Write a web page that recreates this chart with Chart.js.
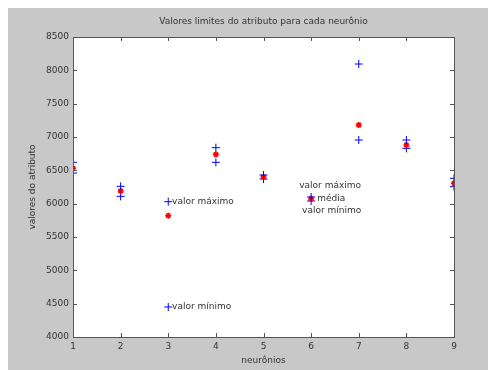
<!DOCTYPE html>
<html>
<head>
<meta charset="utf-8">
<script src="https://cdn.jsdelivr.net/npm/chart.js@4/dist/chart.umd.min.js"></script>
<style>
  body { margin: 0; background: #ffffff; }
  #fundo { position: absolute; left: 8px; top: 8px; width: 480px; height: 362px; background: #c8c8c8; }
</style>
</head>
<body>
<div id="fundo"><canvas id="grafico" width="480" height="362"></canvas></div>
<script>
const neuronios = [1, 2, 3, 4, 5, 6, 7, 8, 9];
const valorMaximo = [6620, 6260, 6030, 6840, 6430, 6100, 8095, 6955, 6380];
const valorMedio = [6530, 6190, 5820, 6740, 6400, 6075, 7180, 6880, 6305];
const valorMinimo = [6460, 6110, 4450, 6620, 6370, 6040, 6955, 6830, 6255];

const titulo = "Valores limites do atributo para cada neurônio";

// textos escritos dentro do grafico (posicao em unidades dos eixos)
const anotacoes = [
  { texto: "valor máximo", x: 3.08, y: 6030 },
  { texto: "valor mínimo", x: 3.08, y: 4450 },
  { texto: "valor máximo", x: 5.75, y: 6265 },
  { texto: "média", x: 6.13, y: 6075 },
  { texto: "valor mínimo", x: 5.81, y: 5890 }
];

function pontos(valores) {
  return neuronios.map((n, i) => ({ x: n, y: valores[i] }));
}

const fonte = { family: "DejaVu Sans", size: 9 };

const caixaPlugin = {
  id: "caixa",
  beforeDraw(chart) {
    const ctx = chart.ctx;
    const a = chart.chartArea;
    ctx.save();
    ctx.fillStyle = "#ffffff";
    ctx.fillRect(a.left, a.top, a.right - a.left, a.bottom - a.top);
    ctx.fillStyle = "#333";
    ctx.font = "9px 'DejaVu Sans'";
    ctx.textAlign = "center";
    ctx.textBaseline = "middle";
    ctx.fillText(titulo, (a.left + a.right) / 2, 14);
    ctx.restore();
  },
  afterDraw(chart) {
    const ctx = chart.ctx;
    const a = chart.chartArea;
    const sx = chart.scales.x;
    const sy = chart.scales.y;
    ctx.save();
    ctx.strokeStyle = "#555";
    ctx.lineWidth = 1;
    ctx.strokeRect(Math.round(a.left) + 0.5, Math.round(a.top) + 0.5, Math.round(a.right - a.left), Math.round(a.bottom - a.top));
    ctx.beginPath();
    sx.ticks.forEach(t => {
      const px = Math.round(sx.getPixelForValue(t.value)) + 0.5;
      ctx.moveTo(px, a.bottom); ctx.lineTo(px, a.bottom - 4);
      ctx.moveTo(px, a.top); ctx.lineTo(px, a.top + 4);
    });
    sy.ticks.forEach(t => {
      const py = Math.round(sy.getPixelForValue(t.value)) + 0.5;
      ctx.moveTo(a.left, py); ctx.lineTo(a.left + 4, py);
      ctx.moveTo(a.right, py); ctx.lineTo(a.right - 4, py);
    });
    ctx.stroke();
    ctx.fillStyle = "#333";
    ctx.font = "9px 'DejaVu Sans'";
    ctx.textBaseline = "middle";
    anotacoes.forEach(n => {
      ctx.fillText(n.texto, sx.getPixelForValue(n.x), sy.getPixelForValue(n.y));
    });
    ctx.restore();
  }
};

new Chart(document.getElementById("grafico"), {
  type: "scatter",
  data: {
    datasets: [
      { label: "valor máximo", data: pontos(valorMaximo), pointStyle: "cross", radius: 4, borderColor: "#0000ff", borderWidth: 1 },
      { label: "média", data: pontos(valorMedio), pointStyle: "star", radius: 3, borderColor: "#ff0000", borderWidth: 1.5 },
      { label: "valor mínimo", data: pontos(valorMinimo), pointStyle: "cross", radius: 4, borderColor: "#0000ff", borderWidth: 1 }
    ]
  },
  options: {
    responsive: false,
    animation: false,
    layout: { padding: { top: 29, right: 34, bottom: 0 } },
    plugins: {
      legend: { display: false },
      tooltip: { enabled: false },
      title: { display: false }
    },
    scales: {
      x: {
        type: "linear",
        min: 1,
        max: 9,
        grid: { display: false, tickLength: 0 },
        border: { display: false },
        ticks: { stepSize: 1, color: "#333", font: fonte, padding: 4 },
        title: { display: true, text: "neurônios", color: "#333", font: fonte, padding: { top: 0, bottom: 4 } },
        afterFit(scale) { scale.height = 33; }
      },
      y: {
        min: 4000,
        max: 8500,
        grid: { display: false, tickLength: 0 },
        border: { display: false },
        ticks: { stepSize: 500, color: "#333", font: fonte, padding: 4, callback: v => String(v) },
        title: { display: true, text: "valores do atributo", color: "#333", font: fonte, padding: { top: 19 } },
        afterFit(scale) { scale.width = 65; }
      }
    }
  },
  plugins: [caixaPlugin]
});
</script>
</body>
</html>
